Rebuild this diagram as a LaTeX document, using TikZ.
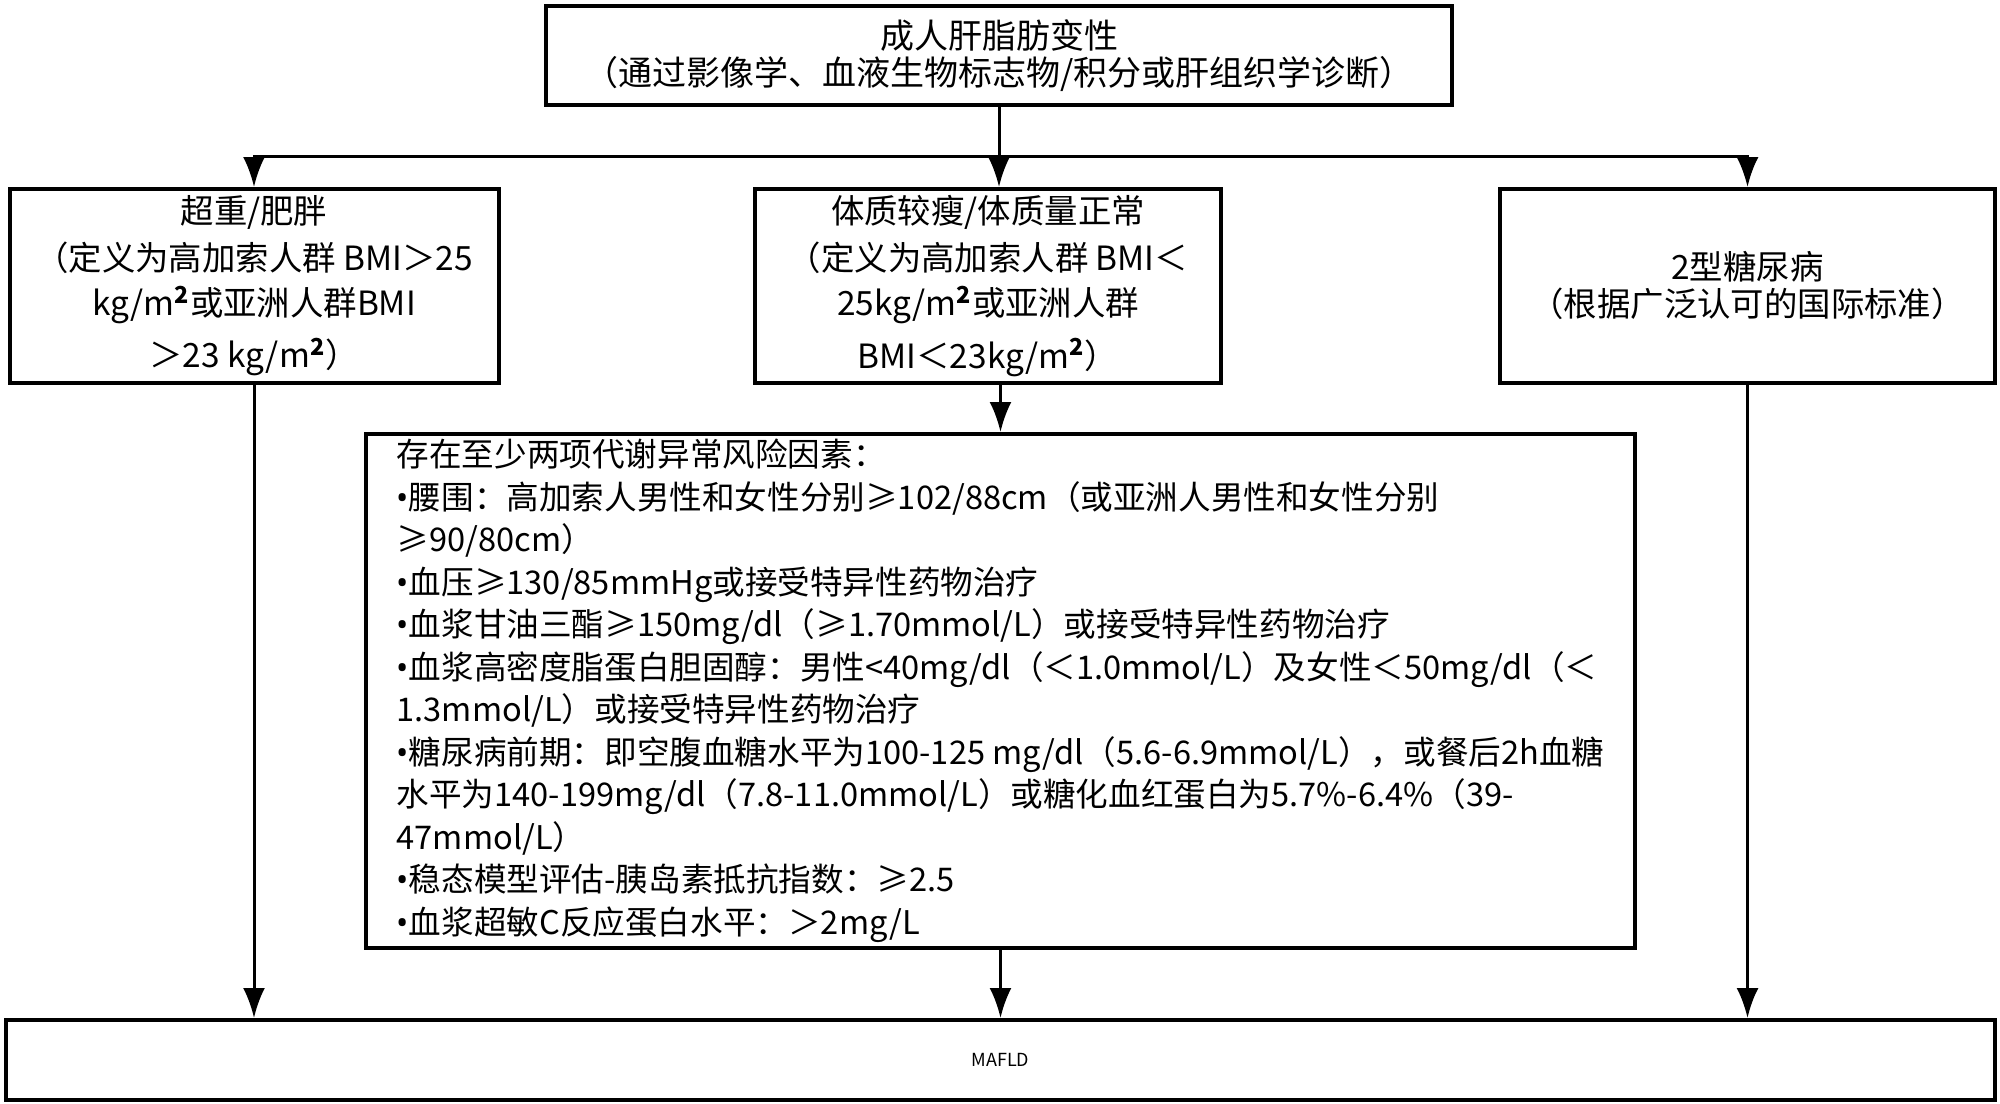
\documentclass[tikz,border=0pt]{standalone}
\usepackage{fontspec}
\setmainfont{Noto Sans CJK SC}
\newfontfamily\latinfont{Noto Sans}
\usetikzlibrary{arrows.meta}
\newcommand{\mcarre}{m\textsuperscript{\textbf{2}}}
\newcommand{\puce}{{\latinfont •}}

\begin{document}
\begin{tikzpicture}[x=0.5pt, y=-0.5pt,
        boite/.style={draw, line width=2pt, inner sep=0pt, align=center,
            font=\fontsize{16.7pt}{18.5pt}\selectfont},
        ligne/.style={line width=1.5pt},
        fleche/.style={line width=1.5pt, -{Latex[length=15pt, width=11pt]}}]
        % Tout est placé à la main, en pixels de l'image d'origine.
        \useasboundingbox (0, 0) rectangle (2000, 1103);
        \node[boite, minimum width=453pt, minimum height=49.5pt,
            font=\fontsize{17pt}{18.5pt}\selectfont] (nafld) at (999, 55.5)
            {成人肝脂肪变性\\（通过影像学、血液生物标志物/积分或肝组织学诊断）};
        \node[boite, minimum width=244.5pt, minimum height=97pt] (surpoids) at (254, 286)
            {超重/肥胖\\[5pt]（定义为高加索人群 BMI＞25\\[4pt]kg/\mcarre 或亚洲人群BMI\\[6pt]＞23 kg/\mcarre）};
        \node[boite, minimum width=233pt, minimum height=97pt] (maigre) at (988, 286)
            {体质较瘦/体质量正常\\[5pt]（定义为高加索人群 BMI＜\\[4pt]25kg/\mcarre 或亚洲人群\\[6pt]BMI＜23kg/\mcarre）};
        \node[boite, minimum width=247.5pt, minimum height=97pt] (diabete) at (1747.5, 286)
            {2型糖尿病\\（根据广泛认可的国际标准）};
        \node[boite, minimum width=634.5pt, minimum height=257pt, align=left,
            font=\fontsize{16.3pt}{21.25pt}\selectfont] (risque) at (1000.5, 691)
            {存在至少两项代谢异常风险因素：\\
            \puce 腰围：高加索人男性和女性分别≥102/88cm（或亚洲人男性和女性分别\\
            ≥90/80cm）\\
            \puce 血压≥130/85mmHg或接受特异性药物治疗\\
            \puce 血浆甘油三酯≥150mg/dl（≥1.70mmol/L）或接受特异性药物治疗\\
            \puce 血浆高密度脂蛋白胆固醇：男性<40mg/dl（＜1.0mmol/L）及女性＜50mg/dl（＜\\
            1.3mmol/L）或接受特异性药物治疗\\
            \puce 糖尿病前期：即空腹血糖水平为100-125 mg/dl（5.6-6.9mmol/L），或餐后2h血糖\\
            水平为140-199mg/dl（7.8-11.0mmol/L）或糖化血红蛋白为5.7\%-6.4\%（39-\\
            47mmol/L）\\
            \puce 稳态模型评估-胰岛素抵抗指数：≥2.5\\
            \puce 血浆超敏C反应蛋白水平：＞2mg/L};
        \node[boite, minimum width=994.5pt, minimum height=40pt,
            font=\fontsize{9pt}{10pt}\selectfont] (mafld) at (1000.5, 1060) {MAFLD};
        \coordinate (fourche) at (nafld.south |- 0, 156);
        \draw[ligne] (nafld.south) -- (fourche);
        \draw[fleche] (fourche) -| (surpoids.north);
        \draw[fleche] (fourche) -| (diabete.north);
        \draw[fleche] (fourche) -- (fourche |- maigre.north);
        \draw[fleche] (risque.north |- maigre.south) -- (risque.north);
        \draw[fleche] (surpoids.south) -- (surpoids.south |- mafld.north);
        \draw[fleche] (risque.south) -- (mafld.north);
        \draw[fleche] (diabete.south) -- (diabete.south |- mafld.north);
    \end{tikzpicture}
\end{document}
